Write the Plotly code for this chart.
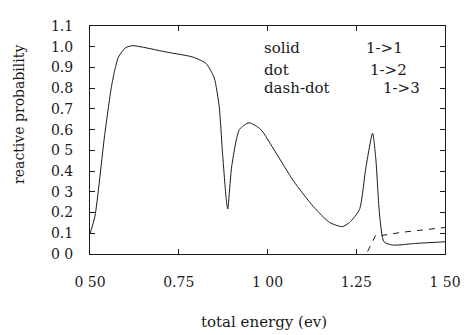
import plotly.graph_objects as go

# 1->1 (solid)
e11 = [0.500, 0.514, 0.541, 0.560, 0.569, 0.580, 0.600, 0.620, 0.716, 0.790, 0.827, 0.850, 0.864,
       0.873, 0.884, 0.888, 0.899, 0.921, 0.948, 0.981, 1.022, 1.073, 1.129, 1.175, 1.211,
       1.231, 1.259, 1.277, 1.296, 1.305, 1.316, 1.328, 1.352, 1.417, 1.500]
p11 = [0.098, 0.183, 0.570, 0.803, 0.881, 0.950, 0.995, 1.005, 0.974, 0.950, 0.919, 0.849, 0.710,
       0.493, 0.260, 0.217, 0.420, 0.601, 0.633, 0.601, 0.493, 0.353, 0.229, 0.152, 0.132,
       0.152, 0.214, 0.415, 0.583, 0.462, 0.183, 0.059, 0.043, 0.051, 0.059]
# 1->2 (dot)
e12 = [1.282, 1.296, 1.305, 1.324, 1.380, 1.500]
p12 = [0.012, 0.059, 0.092, 0.090, 0.105, 0.128]

xtick_vals = [0.50, 0.75, 1.00, 1.25, 1.50]
xtick_text = ["0 50", "0.75", "1 00", "1.25", "1 50"]
ytick_vals = [0.0, 0.1, 0.2, 0.3, 0.4, 0.5, 0.6, 0.7, 0.8, 0.9, 1.0, 1.1]
ytick_text = ["0 0", "0.1", "0.2", "0 3", "0.4", "0 5", "0.6", "0.7", "0.8", "0.9", "1.0", "1.1"]

legend_names = ["solid", "dot", "dash-dot"]
legend_labels = ["1->1", "1->2", "1->3"]

FONT = "DejaVu Serif"
INK = "#1a1a1a"

fig = go.Figure()
fig.add_trace(go.Scatter(x=e11, y=p11, mode="lines", line=dict(color=INK, width=1, shape="spline", smoothing=0.6),
                         showlegend=False))
fig.add_trace(go.Scatter(x=e12, y=p12, mode="lines", line=dict(color=INK, width=1, dash="6px,6px"),
                         showlegend=False))

leg_y = [0.992, 0.890, 0.800]
leg_rx = [1.272, 1.283, 1.319]
for name, lab, yy, rx in zip(legend_names, legend_labels, leg_y, leg_rx):
    fig.add_annotation(x=0.985, y=yy, text=name, showarrow=False, xanchor="left", yanchor="middle",
                       font=dict(family=FONT, size=15, color=INK))
    fig.add_annotation(x=rx, y=yy, text=lab, showarrow=False, xanchor="left", yanchor="middle",
                       font=dict(family=FONT, size=15, color=INK))

fig.add_annotation(xref="paper", yref="paper", x=0.49, y=-0.30, text="total energy (ev)", showarrow=False,
                   xanchor="center", yanchor="middle", font=dict(family=FONT, size=15, color=INK))
fig.add_annotation(xref="paper", yref="paper", x=-0.2, y=0.61, text="reactive probability", showarrow=False,
                   textangle=-90, xanchor="center", yanchor="middle", font=dict(family=FONT, size=14, color=INK))

axis_common = dict(showgrid=False, zeroline=False, showline=True, linecolor=INK, linewidth=1,
                   mirror="ticks", ticks="inside", ticklen=5, tickcolor=INK,
                   tickfont=dict(family=FONT, size=14, color=INK))
fig.update_xaxes(range=[0.5, 1.5], tickvals=xtick_vals, ticktext=xtick_text, ticklabelstandoff=15, **axis_common)
fig.update_yaxes(range=[0, 1.1], tickvals=ytick_vals, ticktext=ytick_text, ticklabelstandoff=13, **axis_common)

# figure is 8px smaller than the window to allow for the page's body margin
fig.update_layout(width=463, height=327, margin=dict(l=82, r=21, t=10, b=81),
                  plot_bgcolor="white", paper_bgcolor="white", showlegend=False)
fig.write_html("out.html")
